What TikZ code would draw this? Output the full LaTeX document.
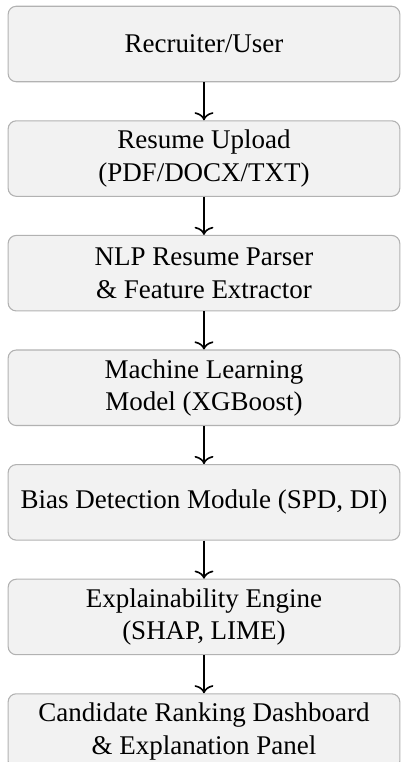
\documentclass[tikz,border=0pt]{standalone}
\usepackage{fontspec}
\setmainfont{Liberation Serif}
\usepackage{tikz}
\usetikzlibrary{positioning,arrows.meta}

\begin{document}
\begin{tikzpicture}[node distance = 0.495cm, >={To[width=7pt,length=3pt]},
		stage/.style = {draw=gray!60, fill=gray!10, rounded corners=3pt, minimum width=5.1cm, minimum height=0.983cm, align=center, inner sep=2pt}];
				\useasboundingbox (0,0) rectangle (5.222,-9.922);
				\node[stage] (user) at (2.656,-0.573) {Recruiter/User};
				\node[stage, below=of user] (upload) {Resume Upload\\(PDF/DOCX/TXT)};
				\node[stage, below=of upload] (parser) {NLP Resume Parser\\\& Feature Extractor};
				\node[stage, below=of parser] (model) {Machine Learning\\Model (XGBoost)};
				\node[stage, below=of model] (bias) {Bias Detection Module (SPD, DI)};
				\node[stage, below=of bias] (explain) {Explainability Engine\\(SHAP, LIME)};
				\node[stage, below=of explain] (dash) {Candidate Ranking Dashboard\\\& Explanation Panel};
				\foreach \a/\b in {user/upload, upload/parser, parser/model, model/bias, bias/explain, explain/dash}
					\draw[->, semithick] (\a) -- (\b);
			\end{tikzpicture}
\end{document}
